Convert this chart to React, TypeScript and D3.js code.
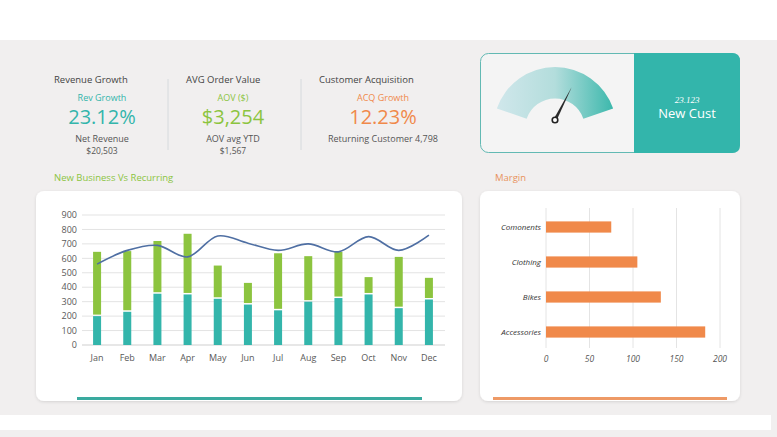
import * as d3 from 'd3';
import { useEffect, useRef } from 'react';

// monthly stacked bars + trend line
const months = ['Jan', 'Feb', 'Mar', 'Apr', 'May', 'Jun', 'Jul', 'Aug', 'Sep', 'Oct', 'Nov', 'Dec'];
const recurring = [200, 230, 355, 350, 320, 280, 240, 300, 325, 350, 255, 315];
const newBusiness = [445, 420, 365, 420, 230, 150, 395, 315, 320, 120, 355, 150];
const trend = [560, 655, 690, 610, 755, 705, 655, 700, 645, 750, 655, 760];
const yTicks = [0, 100, 200, 300, 400, 500, 600, 700, 800, 900];

// margin bars
const marginCats = ['Comonents', 'Clothing', 'Bikes', 'Accessories'];
const marginVals = [75, 105, 132, 183];
const marginTicks = [0, 50, 100, 150, 200];

// kpi blocks
const kpiTitles = ['Revenue Growth', 'AVG Order Value', 'Customer Acquisition'];
const kpiLabels = ['Rev Growth', 'AOV ($)', 'ACQ Growth'];
const kpiValues = ['23.12%', '$3,254', '12.23%'];
const kpiSub1 = ['Net Revenue', 'AOV avg YTD', 'Returning Customer 4,798'];
const kpiSub2 = ['$20,503', '$1,567', ''];

const gaugeValue = 0.69;
const newCust = '23.123';

const TEAL = '#33b5ab';
const GREEN = '#8cc43f';
const ORANGE = '#f0894a';
const LINE = '#4f6fa3';
const HAND = '"Open Sans", "DejaVu Sans", sans-serif';

export default function App() {
  const ref = useRef<SVGSVGElement | null>(null);

  useEffect(() => {
    if (!ref.current) return;
    const W = 777;
    const H = 437;
    const svg = d3.select(ref.current);
    svg.selectAll('*').remove();
    svg.attr('viewBox', `0 0 ${W} ${H}`);

    const defs = svg.append('defs');
    const grad = defs.append('linearGradient').attr('id', 'gg').attr('x1', '0%').attr('x2', '100%');
    grad.append('stop').attr('offset', '0%').attr('stop-color', '#d0e7eb');
    grad.append('stop').attr('offset', '50%').attr('stop-color', '#b3dddc');
    grad.append('stop').attr('offset', '100%').attr('stop-color', '#3cb8ac');
    const sh = defs.append('filter').attr('id', 'sh').attr('x', '-5%').attr('y', '-5%').attr('width', '110%').attr('height', '115%');
    sh.append('feDropShadow').attr('dx', 0).attr('dy', 1).attr('stdDeviation', 1.5).attr('flood-color', '#000').attr('flood-opacity', 0.12);

    // background
    svg.append('rect').attr('width', W).attr('height', H).attr('fill', '#f1efef');
    svg.append('rect').attr('width', W).attr('height', 40).attr('fill', '#ffffff');
    svg.append('rect').attr('x', 0).attr('y', 415).attr('width', 771).attr('height', 15).attr('fill', '#ffffff');

    // KPI blocks
    const colX = [54, 186, 319];
    const colC = [102, 233, 383];
    const colColor = [TEAL, GREEN, ORANGE];
    kpiTitles.forEach((t, i) => {
      const g = svg.append('g').style('font-family', HAND);
      g.append('text').attr('x', colX[i]).attr('y', 83).attr('font-size', 9.5).attr('fill', '#444').text(t);
      g.append('text').attr('x', colC[i]).attr('y', 101).attr('text-anchor', 'middle').attr('font-size', 9).attr('fill', colColor[i]).text(kpiLabels[i]);
      g.append('text').attr('x', colC[i]).attr('y', 124).attr('text-anchor', 'middle').attr('font-size', 20).attr('fill', colColor[i]).text(kpiValues[i]);
      g.append('text').attr('x', colC[i]).attr('y', 142).attr('text-anchor', 'middle').attr('font-size', 9).attr('fill', '#555').text(kpiSub1[i]);
      if (kpiSub2[i]) g.append('text').attr('x', colC[i]).attr('y', 154).attr('text-anchor', 'middle').attr('font-size', 8.5).attr('fill', '#555').text(kpiSub2[i]);
    });
    [168, 301].forEach((x) => {
      svg.append('line').attr('x1', x).attr('x2', x).attr('y1', 79).attr('y2', 150).attr('stroke', '#d6dadd').attr('stroke-width', 1);
    });

    // gauge card
    svg.append('rect').attr('x', 480.5).attr('y', 53.5).attr('width', 259).attr('height', 99).attr('rx', 8)
      .attr('fill', '#f4f4f4').attr('stroke', '#62b9b3').attr('stroke-width', 1);
    const rx = 8;
    svg.append('path')
      .attr('d', `M634,53 H${740 - rx} Q740,53 740,${53 + rx} V${153 - rx} Q740,153 ${740 - rx},153 H634 Z`)
      .attr('fill', TEAL);
    svg.append('text').attr('x', 687).attr('y', 103).attr('text-anchor', 'middle').attr('font-size', 9)
      .attr('font-style', 'italic').attr('font-family', '"Liberation Serif", serif').attr('fill', '#fff').text(newCust);
    svg.append('text').attr('x', 687).attr('y', 118).attr('text-anchor', 'middle').attr('font-size', 13)
      .attr('font-family', HAND).attr('fill', '#fff').text('New Cust');

    const gc = { x: 555, y: 128.5 };
    const ang = d3.scaleLinear().domain([0, 1]).range([-71 * Math.PI / 180, 71 * Math.PI / 180]);
    const arc = d3.arc<any>().innerRadius(30).outerRadius(61.5);
    svg.append('path')
      .attr('transform', `translate(${gc.x},${gc.y})`)
      .attr('d', arc({ startAngle: ang(0), endAngle: ang(1) }) as string)
      .attr('fill', 'url(#gg)');
    const a = ang(gaugeValue);
    const pivot = { x: 555, y: 120 };
    const len = 37;
    const tip = { x: pivot.x + len * Math.sin(a), y: pivot.y - len * Math.cos(a) };
    const px = Math.cos(a) * 1.6;
    const py = Math.sin(a) * 1.6;
    svg.append('path')
      .attr('d', `M${pivot.x - px},${pivot.y - py} L${tip.x},${tip.y} L${pivot.x + px},${pivot.y + py} Z`)
      .attr('fill', '#2b2b2b');
    svg.append('circle').attr('cx', pivot.x).attr('cy', pivot.y).attr('r', 2.8)
      .attr('fill', '#fff').attr('stroke', '#222').attr('stroke-width', 1.6);

    // section titles
    svg.append('text').attr('x', 54).attr('y', 181).attr('font-size', 9.5).attr('font-family', HAND).attr('fill', GREEN).text('New Business Vs Recurring');
    svg.append('text').attr('x', 495).attr('y', 181).attr('font-size', 9.5).attr('font-family', HAND).attr('fill', '#e8925c').text('Margin');

    // cards
    svg.append('rect').attr('x', 36).attr('y', 191).attr('width', 426).attr('height', 210).attr('rx', 8).attr('fill', '#fff').attr('filter', 'url(#sh)');
    svg.append('rect').attr('x', 480).attr('y', 191).attr('width', 260).attr('height', 210).attr('rx', 8).attr('fill', '#fff').attr('filter', 'url(#sh)');
    svg.append('rect').attr('x', 77).attr('y', 397).attr('width', 345).attr('height', 3).attr('fill', '#3aaa9f');
    svg.append('rect').attr('x', 493).attr('y', 397).attr('width', 234).attr('height', 3).attr('fill', '#ee9a66');

    // main chart
    const x = d3.scaleBand().domain(months).range([82, 444]).paddingInner(0.73).paddingOuter(0.365);
    const y = d3.scaleLinear().domain([0, 900]).range([345, 215]);
    const bw = 8;
    const cx = (m: string) => (x(m) as number) + x.bandwidth() / 2;

    const grid = svg.append('g');
    grid.selectAll('line').data(yTicks).join('line')
      .attr('x1', 82).attr('x2', 445).attr('y1', (d) => y(d)).attr('y2', (d) => y(d))
      .attr('stroke', (d) => (d === 0 ? '#cfcfcf' : '#e3e3e3')).attr('stroke-width', 1);
    grid.selectAll('text').data(yTicks).join('text')
      .attr('x', 77).attr('y', (d) => y(d) + 3.2).attr('text-anchor', 'end')
      .attr('font-size', 9).attr('font-family', '"Open Sans", sans-serif').attr('fill', '#595959').text((d) => d);

    const bars = svg.append('g');
    bars.selectAll('rect.r').data(months).join('rect').attr('class', 'r')
      .attr('x', (m) => cx(m) - bw / 2).attr('width', bw)
      .attr('y', (_, i) => y(recurring[i])).attr('height', (_, i) => y(0) - y(recurring[i]))
      .attr('fill', TEAL);
    bars.selectAll('rect.n').data(months).join('rect').attr('class', 'n')
      .attr('x', (m) => cx(m) - bw / 2).attr('width', bw)
      .attr('y', (_, i) => y(recurring[i] + newBusiness[i]))
      .attr('height', (_, i) => y(recurring[i]) - y(recurring[i] + newBusiness[i]) - 1.5)
      .attr('fill', GREEN);

    const line = d3.line<number>().x((_, i) => cx(months[i])).y((d) => y(d)).curve(d3.curveCatmullRom.alpha(0.5));
    svg.append('path').attr('d', line(trend) as string).attr('fill', 'none').attr('stroke', LINE).attr('stroke-width', 1.6);

    svg.append('g').selectAll('text').data(months).join('text')
      .attr('x', (m) => cx(m)).attr('y', 361).attr('text-anchor', 'middle')
      .attr('font-size', 9).attr('font-family', '"Open Sans", sans-serif').attr('fill', '#595959').text((d) => d);

    // margin chart
    const mx = d3.scaleLinear().domain([0, 200]).range([546, 720]);
    const my = d3.scaleBand().domain(marginCats).range([209.5, 349.5]).paddingInner(0.68).paddingOuter(0.34);
    const mg = svg.append('g');
    mg.selectAll('line').data(marginTicks).join('line')
      .attr('x1', (d) => mx(d)).attr('x2', (d) => mx(d)).attr('y1', 208).attr('y2', 348)
      .attr('stroke', '#e4e4e4').attr('stroke-width', 1);
    mg.selectAll('rect').data(marginCats).join('rect')
      .attr('x', mx(0)).attr('y', (c) => my(c) as number).attr('height', my.bandwidth())
      .attr('width', (_, i) => mx(marginVals[i]) - mx(0)).attr('fill', ORANGE);
    mg.selectAll('text.c').data(marginCats).join('text').attr('class', 'c')
      .attr('x', 541).attr('y', (c) => (my(c) as number) + my.bandwidth() / 2 + 3)
      .attr('text-anchor', 'end').attr('font-size', 8).attr('font-style', 'italic')
      .attr('font-family', HAND).attr('fill', '#333').text((d) => d);
    mg.selectAll('text.t').data(marginTicks).join('text').attr('class', 't')
      .attr('x', (d) => mx(d)).attr('y', 362).attr('text-anchor', 'middle')
      .attr('font-size', 8.5).attr('font-style', 'italic').attr('font-family', HAND).attr('fill', '#555').text((d) => d);
  }, []);

  return (
    <div style={{ position: 'absolute', left: 0, top: 0, width: 777, height: 437 }}>
      <svg ref={ref} width={777} height={437} style={{ display: 'block' }} />
    </div>
  );
}
